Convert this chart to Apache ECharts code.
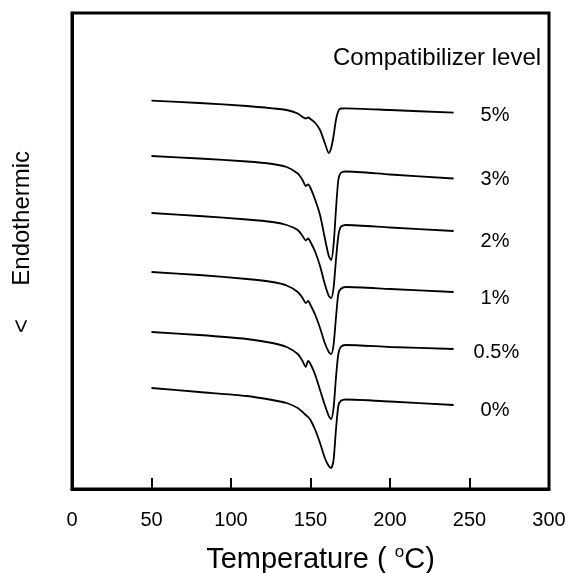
<!DOCTYPE html>
<html>
<head>
<meta charset="utf-8">
<script src="https://cdn.jsdelivr.net/npm/echarts@6/dist/echarts.min.js"></script>
<style>
  html, body { margin: 0; padding: 0; background: #fff; }
  #chart { width: 570px; height: 573px; }
</style>
</head>
<body>
<div id="chart"></div>
<script>
// DSC heating scans, stacked vertically (heat flow in arbitrary offset units)
const temps = [50, 80, 110, 126, 135, 142, 145, 147, 148.5, 150, 153, 156, 159, 161.5, 163, 164.5, 166, 167.5, 169, 172, 200, 240];

const levels = ['5%', '3%', '2%', '1%', '0.5%', '0%'];

const flow5 = [388.3, 386, 383, 380.7, 379, 375.5, 372, 370.5, 371.5, 370, 366, 359, 346, 336, 341, 353, 369, 378, 380.5, 380.7, 379, 376.3];
const flow3 = [333, 330.5, 327.5, 325, 322, 315.5, 309, 303, 304.5, 301, 289, 274, 251, 233, 229, 244, 279, 309, 316, 317.5, 314.5, 310.5];
const flow2 = [276, 273, 269.5, 267, 264, 259, 253, 248.5, 250.5, 247, 237, 223, 205, 193, 191, 201, 229, 253, 262, 264, 261.5, 258];
const flow1 = [217, 214, 210, 207, 203.5, 197, 191, 186, 188, 184, 174, 161, 146, 137, 135, 144, 171, 195, 200, 202, 200, 197];
const flow05 = [157, 154, 150, 146, 142, 135, 128, 122, 128, 125, 114, 99, 84, 73, 70, 81, 111, 135, 142, 144, 142, 140];
const flow0 = [101, 97, 93, 89, 86, 81, 77, 74, 72, 69, 59, 46, 31, 23, 21, 29, 59, 83, 88, 89.5, 87.5, 84];

const xTicks = [0, 50, 100, 150, 200, 250, 300];

const allFlows = [flow5, flow3, flow2, flow1, flow05, flow0];

// vertical nudge of each end label relative to its curve end
const labelNudge = [3, 1, 10, 6, 3, 5];

const chart = echarts.init(document.getElementById('chart'), null, { renderer: 'canvas' });

const fontFamily = '"Liberation Sans", Arial, sans-serif';

const series = allFlows.map((flow, i) => ({
  name: levels[i],
  type: 'line',
  data: temps.map((t, k) => [t, flow[k]]),
  showSymbol: false,
  smooth: 0.25,
  lineStyle: { color: '#000', width: 1.8 },
  endLabel: {
    show: true,
    formatter: levels[i],
    color: '#000',
    fontSize: 20,
    fontFamily: fontFamily,
    distance: levels[i] === '0.5%' ? 20 : 27,
    offset: [0, labelNudge[i]]
  },
  emphasis: { disabled: true },
  z: 2
}));

chart.setOption({
  animation: false,
  backgroundColor: '#fff',
  grid: {
    left: 72, right: 21, top: 13, bottom: 84,
    outerBoundsMode: 'none',
    containLabel: false,
    show: true, borderColor: '#000', borderWidth: 3, backgroundColor: 'transparent'
  },
  xAxis: {
    type: 'value',
    min: xTicks[0],
    max: xTicks[xTicks.length - 1],
    interval: 50,
    axisLine: { show: true, lineStyle: { color: '#000', width: 3 } },
    axisTick: { show: true, inside: true, length: 11, lineStyle: { color: '#000', width: 2 } },
    axisLabel: { color: '#000', fontSize: 20, fontFamily: fontFamily, margin: 21 },
    splitLine: { show: false },
    name: 'Temperature ( {sup|o}C)',
    nameLocation: 'middle',
    nameGap: 55,
    nameTextStyle: {
      color: '#000', fontSize: 29, fontFamily: fontFamily, padding: [0, 0, 0, 20],
      rich: { sup: { fontSize: 17, verticalAlign: 'top', padding: [0, 0, 14, 0], fontFamily: fontFamily, color: '#000' } }
    }
  },
  yAxis: {
    type: 'value',
    min: 0,
    max: 476,
    axisLine: { show: true, lineStyle: { color: '#000', width: 3 } },
    axisTick: { show: false },
    axisLabel: { show: false },
    splitLine: { show: false }
  },
  graphic: [{
    type: 'text',
    left: 333,
    top: 46,
    style: { text: 'Compatibilizer level', fill: '#000', font: '24px "Liberation Sans", Arial, sans-serif' }
  }, {
    type: 'text',
    x: 22,
    y: 242,
    rotation: Math.PI / 2,
    style: {
      text: '<     Endothermic',
      fill: '#000',
      font: '24px "Liberation Sans", Arial, sans-serif',
      align: 'center',
      verticalAlign: 'middle'
    }
  }],
  series: series
});
</script>
</body>
</html>
